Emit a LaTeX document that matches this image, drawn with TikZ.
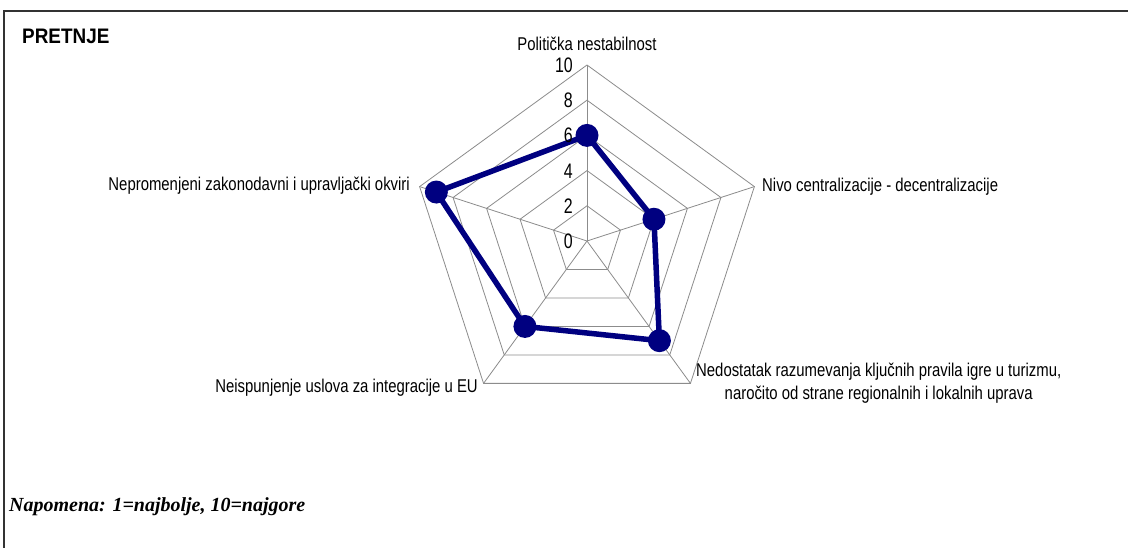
\documentclass[tikz,border=0pt]{standalone}
\usepackage{fontspec}
\setmainfont{Liberation Sans}
\newfontfamily\labfont[FakeStretch=0.805]{Liberation Sans}
\newfontfamily\tickfont[FakeStretch=0.76]{Liberation Sans}
\newfontfamily\titlefont[FakeStretch=0.9]{Liberation Sans}
\newfontfamily\notefont{Liberation Serif}
\definecolor{series}{RGB}{0,0,128}
\definecolor{gridgray}{RGB}{140,140,140}
\begin{document}
\begin{tikzpicture}[x=1pt,y=-1pt,
  frame/.style={draw=black!80,line width=1.6pt},
  gridline/.style={draw=gridgray,line width=0.8pt},
  serieline/.style={draw=series,line width=5.5pt,line join=round},
  dot/.style={circle,fill=series,minimum size=23pt,inner sep=0pt},
  lab/.style={font=\labfont\fontsize{18.5}{23}\selectfont,inner sep=0pt},
  tick/.style={font=\tickfont\fontsize{21}{24}\selectfont,inner sep=0pt,anchor=base east},
]
\useasboundingbox (0,0) rectangle (1128,548);
\fill[white] (0,0) rectangle (1128,548);
\draw[frame] (1128,11) -- (4,11) -- (4,548);

% grid
\begin{scope}[shift={(587,241)}]
  \foreach \k in {2,4,6,8,10}{
    \draw[gridline] (-90:\k*17.6) -- (-18:\k*17.6) -- (54:\k*17.6) -- (126:\k*17.6) -- (198:\k*17.6) -- cycle;
  }
  \foreach \a in {-90,-18,54,126,198}{
    \draw[gridline] (0,0) -- (\a:176);
  }
  % data
  \node[dot] (p1) at (-90:6*17.6) {};
  \node[dot] (p2) at (-18:4*17.6) {};
  \node[dot] (p3) at (54:7*17.6) {};
  \node[dot] (p4) at (126:6*17.6) {};
  \node[dot] (p5) at (198:9*17.6) {};
  \draw[serieline] (p1.center) -- (p2.center) -- (p3.center) -- (p4.center) -- (p5.center) -- cycle;
\end{scope}

% ticks
\foreach \k in {0,2,4,6,8,10}{
  \node[tick] (t\k) at (573,{241-\k*17.6+7.5}) {\k};
}

% axis labels
\node[lab,anchor=base] (l1) at (587,51) {Politička nestabilnost};
\node[lab,anchor=base west] (l2) at (762,192) {Nivo centralizacije - decentralizacije};
\node[lab,anchor=north west,align=center] (l3) at (696,362.5) {Nedostatak razumevanja ključnih pravila igre u turizmu,\\naročito od strane regionalnih i lokalnih uprava};
\node[lab,anchor=base east] (l4) at (478,392) {Neispunjenje uslova za integracije u EU};
\node[lab,anchor=base east] (l5) at (410,191) {Nepromenjeni zakonodavni i upravljački okviri};

% title and note
\node[font=\titlefont\bfseries\fontsize{21}{24}\selectfont,inner sep=0pt,anchor=base west] (title) at (22,44) {PRETNJE};
\node[font=\notefont\bfseries\itshape\fontsize{20}{24}\selectfont,inner sep=0pt,anchor=base west] (note) at (9,511) {Napomena: 1=najbolje, 10=najgore};
\end{tikzpicture}
\end{document}
